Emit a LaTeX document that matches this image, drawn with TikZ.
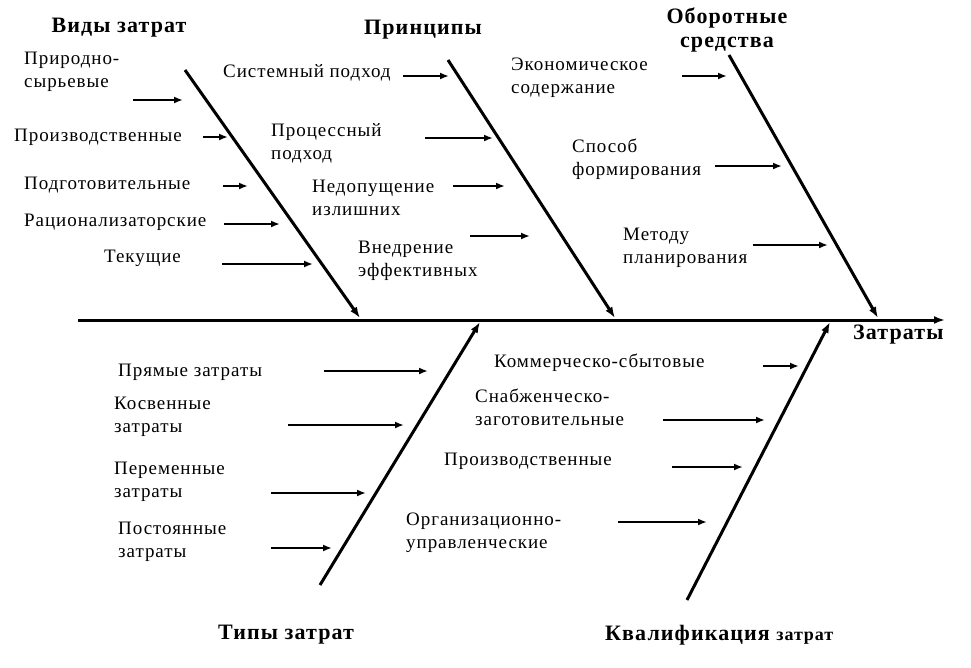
\documentclass[tikz,border=0pt]{standalone}
\usepackage{fontspec}
\setmainfont{Liberation Serif}[LetterSpace=5]
\usetikzlibrary{arrows.meta}
\tikzset{
  bone/.style={line width=3pt, -{Latex[length=11pt,width=8pt]}},
  twig/.style={line width=2pt, -{Latex[length=9pt,width=7pt]}},
  lbl/.style={anchor=west, align=left, inner sep=0pt, font=\fontsize{19}{23}\selectfont},
  head/.style={inner sep=0pt, align=center, font=\fontsize{22}{24}\selectfont\bfseries}
}
\begin{document}
\begin{tikzpicture}[x=1pt, y=-1pt]
    \useasboundingbox (0,0) rectangle (971,667);
    \coordinate (s0) at (78,320); \coordinate (s1) at (945,320);
    \draw[bone] (s0) -- (s1);
    \coordinate (vt) at (185,70);  \coordinate (vs) at (360,318);
    \coordinate (pt) at (448,60);  \coordinate (ps) at (615,318);
    \coordinate (ot) at (729,55);  \coordinate (os) at (878,318);
    \coordinate (tb) at (320,585); \coordinate (ts) at (480,322);
    \coordinate (kb) at (687,600); \coordinate (ks) at (830,322);
    \draw[bone] (vt) -- (vs); \draw[bone] (pt) -- (ps); \draw[bone] (ot) -- (os);
    \draw[bone] (tb) -- (ts); \draw[bone] (kb) -- (ks);
    \node[head] (vid) at (119,28) {Виды затрат};
    \node[head] (pri) at (423,30) {Принципы};
    \node[head] (obo) at (727,30) {Оборотные\\средства};
    \node[head, anchor=west] (zat) at (853,335) {Затраты};
    \node[head] (tip) at (286,635) {Типы затрат};
    \node[head, anchor=west] (kva) at (605,635) {Квалификация {\fontsize{18}{20}\selectfont затрат}};
    \foreach \t/\lx/\ly/\ax/\bx/\ay [count=\i] in {
        {Природно-\\сырьевые}/24/71.5/133/183/100, Производственные/14/137/203/228/137,
        Подготовительные/24/185/223/248/186, Рационализаторские/24/222/224/280/224,
        Текущие/104/258/222/313/264}{
      \node[lbl] (v\i) at (\lx,\ly) {\t};
      \coordinate (va\i) at (\ax,\ay); \coordinate (vb\i) at (\bx,\ay);
      \draw[twig] (va\i) -- (vb\i);
    }
    \foreach \t/\lx/\ly/\ax/\bx/\ay [count=\i] in {
        Системный подход/223/73/403/449/76, {Процессный\\подход}/271/143.5/425/493/138,
        {Недопущение\\излишних}/312/197.5/453/505/186, {Внедрение\\эффективных}/358/261/470/530/236}{
      \node[lbl] (p\i) at (\lx,\ly) {\t};
      \coordinate (pa\i) at (\ax,\ay); \coordinate (pb\i) at (\bx,\ay);
      \draw[twig] (pa\i) -- (pb\i);
    }
    \foreach \t/\lx/\ly/\ax/\bx/\ay [count=\i] in {
        {Экономическое\\содержание}/511/77.5/682/727/76, {Способ\\формирования}/572/159.5/715/782/166,
        {Методу\\планирования}/623/247.5/753/828/245}{
      \node[lbl] (o\i) at (\lx,\ly) {\t};
      \coordinate (oa\i) at (\ax,\ay); \coordinate (ob\i) at (\bx,\ay);
      \draw[twig] (oa\i) -- (ob\i);
    }
    \foreach \t/\lx/\ly/\ax/\bx/\ay [count=\i] in {
        Прямые затраты/118/372/324/428/371, {Косвенные\\затраты}/114/417/288/404/425,
        {Переменные\\затраты}/114/482/271/366/493, {Постоянные\\затраты}/118/542/271/332/548}{
      \node[lbl] (t\i) at (\lx,\ly) {\t};
      \coordinate (ta\i) at (\ax,\ay); \coordinate (tb\i) at (\bx,\ay);
      \draw[twig] (ta\i) -- (tb\i);
    }
    \foreach \t/\lx/\ly/\ax/\bx/\ay [count=\i] in {
        Коммерческо-сбытовые/494/363/763/799/366, {Снабженческо-\\заготовительные}/475/407/663/765/420,
        Производственные/444/461/672/743/467, {Организационно-\\управленческие}/406/532.5/618/707/522}{
      \node[lbl] (k\i) at (\lx,\ly) {\t};
      \coordinate (ka\i) at (\ax,\ay); \coordinate (kb\i) at (\bx,\ay);
      \draw[twig] (ka\i) -- (kb\i);
    }
\end{tikzpicture}
\end{document}
